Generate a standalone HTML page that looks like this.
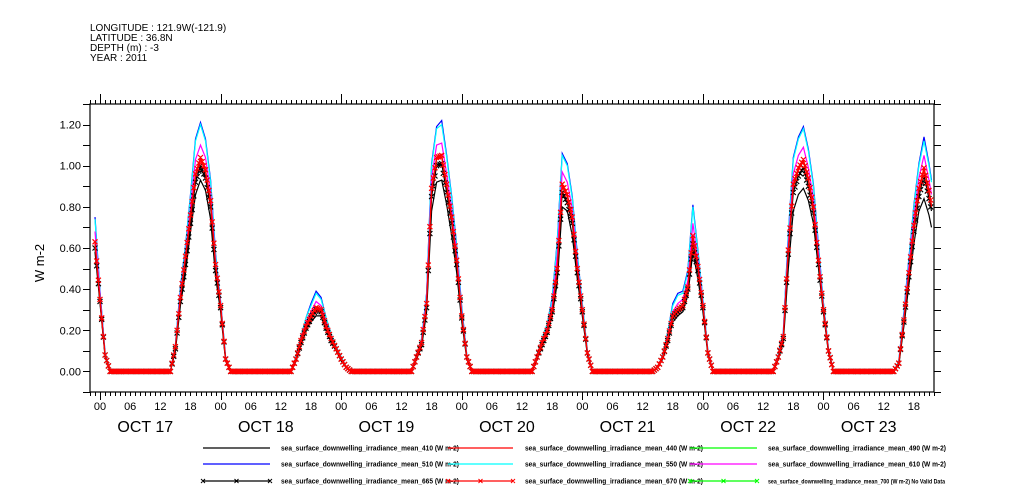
<!DOCTYPE html>
<html><head><meta charset="utf-8"><style>
body{margin:0;background:#fff;}
svg{display:block;font-family:"Liberation Sans",sans-serif;}
</style></head><body>
<svg id="chart" width="1009" height="504" viewBox="0 0 1009 504">
<g font-size="10" fill="#000">
<text x="90" y="31">LONGITUDE : 121.9W(-121.9)</text>
<text x="90" y="41">LATITUDE : 36.8N</text>
<text x="90" y="51">DEPTH (m) : -3</text>
<text x="90" y="61">YEAR : 2011</text>
</g>
<text x="44" y="263" font-size="13" text-anchor="middle" transform="rotate(-90 44 263)">W m-2</text>
<g id="axes"></g>
<g id="series"></g>
<g id="legend" font-size="7" font-weight="bold"></g>
</svg>
<script>
const times = [-1,0,1,2,
14,15,16,17,18,19,20,21,22,23,24,25,26,
38,39,40,41,42,43,44,45,46,47,48,49,50,
62,63,64,65,66,67,68,69,70,71,72,73,74,
86,87,88,89,90,91,92,93,94,95,96,97,98,
110,111,112,113,114,115,116,117,118,119,120,121,122,
134,135,136,137,138,139,140,141,142,143,144,145,146,
158,159,160,161,162,163,164,165,165.5];
const red440 = [0.62,0.35,0.08,0,
0,0.12,0.36,0.55,0.75,0.95,1.03,0.97,0.82,0.51,0.32,0.06,0,
0,0.06,0.15,0.22,0.27,0.31,0.30,0.22,0.16,0.11,0.06,0.02,0,
0,0.07,0.14,0.33,0.88,1.03,1.04,0.90,0.74,0.54,0.27,0.07,0,
0,0.07,0.14,0.20,0.30,0.50,0.90,0.85,0.74,0.50,0.30,0.09,0,
0,0.02,0.07,0.16,0.27,0.30,0.32,0.41,0.65,0.51,0.32,0.09,0,
0,0.07,0.17,0.59,0.90,0.98,1.02,0.93,0.79,0.54,0.30,0.10,0,
0,0.04,0.25,0.48,0.70,0.88,0.98,0.87,0.80];
const cyan550 = [0.74,0.38,0.09,0,
0,0.13,0.40,0.60,0.85,1.12,1.20,1.12,0.92,0.56,0.34,0.07,0,
0,0.07,0.17,0.26,0.32,0.38,0.35,0.26,0.18,0.12,0.07,0.02,0,
0,0.08,0.16,0.37,1.00,1.18,1.20,1.04,0.84,0.60,0.30,0.08,0,
0,0.08,0.16,0.23,0.35,0.62,1.05,1.00,0.84,0.56,0.33,0.10,0,
0,0.02,0.08,0.19,0.32,0.37,0.38,0.48,0.80,0.58,0.35,0.10,0,
0,0.08,0.19,0.66,1.03,1.13,1.18,1.07,0.90,0.60,0.33,0.11,0,
0,0.05,0.28,0.54,0.80,1.00,1.12,1.00,0.92];
const blue510 = [0.75,0.39,0.09,0,
0,0.13,0.41,0.61,0.86,1.13,1.21,1.13,0.93,0.57,0.34,0.07,0,
0,0.07,0.17,0.26,0.33,0.39,0.36,0.26,0.18,0.12,0.07,0.02,0,
0,0.08,0.16,0.38,1.01,1.19,1.22,1.05,0.85,0.61,0.31,0.08,0,
0,0.08,0.16,0.23,0.36,0.63,1.06,1.01,0.85,0.57,0.33,0.10,0,
0,0.02,0.08,0.19,0.33,0.38,0.39,0.49,0.81,0.59,0.35,0.10,0,
0,0.08,0.19,0.67,1.04,1.14,1.19,1.08,0.91,0.61,0.33,0.11,0,
0,0.05,0.29,0.55,0.81,1.01,1.14,1.01,0.93];
const magenta610 = [0.68,0.37,0.08,0,
0,0.12,0.38,0.57,0.80,1.03,1.10,1.04,0.87,0.53,0.33,0.06,0,
0,0.06,0.16,0.24,0.29,0.34,0.32,0.24,0.17,0.11,0.06,0.02,0,
0,0.07,0.15,0.35,0.94,1.10,1.11,0.96,0.79,0.57,0.28,0.07,0,
0,0.07,0.15,0.21,0.32,0.56,0.97,0.92,0.79,0.53,0.31,0.09,0,
0,0.02,0.07,0.17,0.29,0.33,0.35,0.44,0.72,0.54,0.33,0.09,0,
0,0.07,0.18,0.62,0.96,1.05,1.09,0.99,0.84,0.57,0.31,0.10,0,
0,0.04,0.26,0.51,0.75,0.94,1.05,0.93,0.86];
const black410 = [0.58,0.33,0.07,0,
0,0.10,0.32,0.48,0.68,0.86,0.93,0.88,0.74,0.46,0.29,0.05,0,
0,0.05,0.13,0.20,0.24,0.27,0.27,0.20,0.14,0.10,0.05,0.02,0,
0,0.06,0.12,0.29,0.78,0.92,0.93,0.81,0.66,0.48,0.24,0.06,0,
0,0.06,0.12,0.18,0.27,0.43,0.80,0.78,0.66,0.45,0.27,0.08,0,
0,0.02,0.06,0.14,0.24,0.27,0.29,0.37,0.58,0.45,0.29,0.08,0,
0,0.06,0.14,0.50,0.78,0.86,0.89,0.83,0.72,0.50,0.28,0.09,0,
0,0.03,0.22,0.42,0.62,0.78,0.84,0.76,0.70];
const black665 = [0.60,0.34,0.08,0,
0,0.11,0.34,0.52,0.72,0.92,1.00,0.94,0.80,0.49,0.31,0.06,0,
0,0.06,0.14,0.21,0.26,0.30,0.29,0.21,0.15,0.11,0.06,0.02,0,
0,0.07,0.13,0.31,0.85,1.00,1.01,0.87,0.72,0.52,0.26,0.07,0,
0,0.07,0.13,0.19,0.29,0.48,0.87,0.82,0.72,0.48,0.29,0.09,0,
0,0.02,0.07,0.15,0.26,0.29,0.31,0.40,0.62,0.49,0.31,0.09,0,
0,0.07,0.16,0.57,0.87,0.95,0.99,0.90,0.77,0.52,0.29,0.10,0,
0,0.04,0.24,0.46,0.68,0.85,0.95,0.84,0.78];
const red670 = [0.63,0.35,0.08,0,
0,0.12,0.36,0.56,0.76,0.96,1.04,0.98,0.83,0.52,0.32,0.06,0,
0,0.06,0.15,0.22,0.27,0.31,0.30,0.22,0.16,0.11,0.06,0.02,0,
0,0.07,0.14,0.33,0.89,1.04,1.05,0.91,0.75,0.54,0.27,0.07,0,
0,0.07,0.14,0.20,0.30,0.50,0.91,0.86,0.75,0.50,0.30,0.09,0,
0,0.02,0.07,0.16,0.27,0.30,0.32,0.41,0.66,0.51,0.32,0.09,0,
0,0.07,0.17,0.59,0.91,0.99,1.03,0.94,0.80,0.54,0.30,0.10,0,
0,0.04,0.25,0.48,0.71,0.89,0.99,0.88,0.81];
const yTicks = [0,0.2,0.4,0.6,0.8,1.0,1.2];
const yTickLabels = ["0.00","0.20","0.40","0.60","0.80","1.00","1.20"];
const hourLabels = ["00","06","12","18"];
const dayLabels = ["OCT 17","OCT 18","OCT 19","OCT 20","OCT 21","OCT 22","OCT 23"];

const X0=90, X1=934, Y0=104, Y1=392;
const TMIN=-2, TMAX=166, VMIN=-0.1, VMAX=1.3;
function xs(t){return X0+(t-TMIN)*(X1-X0)/(TMAX-TMIN);}
function ys(v){return Y1-(v-VMIN)*(Y1-Y0)/(VMAX-VMIN);}
const NS="http://www.w3.org/2000/svg";
function mk(tag,parent){const e=document.createElementNS(NS,tag);parent.appendChild(e);return e;}
const axes=document.getElementById('axes');
const frame=mk('rect',axes);


frame.setAttribute('x',X0);frame.setAttribute('y',Y0);frame.setAttribute('width',X1-X0);frame.setAttribute('height',Y1-Y0);
frame.setAttribute('fill','none');frame.setAttribute('stroke','#000');frame.setAttribute('stroke-width','1.2');
let tp='';
for(let t=TMIN;t<=TMAX;t++){
  const x=Math.round(xs(t))+0.5;
  const major=((t%24)+24)%24===0;
  tp+=`M${x} ${Y1}v${major?8:4}M${x} ${Y0}v${major?-10:-4}`;
}
for(let v=-0.1;v<=1.31;v+=0.1){
  const y=Math.round(ys(v))+0.5;
  tp+=`M${X0} ${y}h-7M${X1} ${y}h7`;
}
const ticks=mk('path',axes);


ticks.setAttribute('d',tp);ticks.setAttribute('stroke','#000');ticks.setAttribute('fill','none');
yTicks.forEach((v,i)=>{
  const t=mk('text',axes);
  
  
  t.setAttribute('x',X0-9);t.setAttribute('y',ys(v)+4);t.setAttribute('text-anchor','end');t.setAttribute('font-size','11');
  t.textContent=yTickLabels[i];
});
for(let d=0;d<7;d++){
  hourLabels.forEach((h,i)=>{
    const t0=d*24+i*6; if(t0>TMAX) return;
    const t=mk('text',axes);
    
    
    t.setAttribute('x',xs(t0));t.setAttribute('y',410);t.setAttribute('text-anchor','middle');t.setAttribute('font-size','11');
    t.textContent=h;
  });
  const dl=mk('text',axes);
  
  
  dl.setAttribute('x',xs(d*24+9));dl.setAttribute('y',432);dl.setAttribute('text-anchor','middle');dl.setAttribute('font-size','16');
  dl.textContent=dayLabels[d];
}
const ser=document.getElementById('series');
function interp(arr,t){
  for(let i=0;i<times.length-1;i++){
    if(t>=times[i]&&t<=times[i+1]){const f=(t-times[i])/(times[i+1]-times[i]);return arr[i]+(arr[i+1]-arr[i])*f;}
  }
  return null;
}
function line(arr,color,name,marker){
  const p=mk('polyline',ser);
  
  
  p.setAttribute('points',arr.map((v,i)=>xs(times[i]).toFixed(1)+','+ys(v).toFixed(1)).join(' '));
  p.setAttribute('fill','none');p.setAttribute('stroke',color);p.setAttribute('stroke-width','1.2');
  if(marker){
    let d='';
    const tEnd=times[times.length-1];
    for(let t=times[0];t<=tEnd+1e-6;t+=1/3){
      const v=interp(arr,t); if(v===null) continue;
      const x=xs(t),y=ys(v);
      d+=`M${(x-2.5).toFixed(1)} ${(y-2.5).toFixed(1)}l5 5M${(x-2.5).toFixed(1)} ${(y+2.5).toFixed(1)}l5 -5`;
    }
    const m=mk('path',ser);
    
    
    m.setAttribute('d',d);m.setAttribute('stroke',color);m.setAttribute('stroke-width','1.2');
  }
}
line(blue510,'#0000ff','series-510');
line(cyan550,'#00ffff','series-550');
line(magenta610,'#ff00ff','series-610');
line(black410,'#000000','series-410');
line(black665,'#000000','series-665',true);
line(red440,'#ff0000','series-440');
line(red670,'#ff0000','series-670',true);

const legendItems=[
 [203,270,281,448,'#000','sea_surface_downwelling_irradiance_mean_410 (W m-2)',false],
 [448,513,525,448,'#f00','sea_surface_downwelling_irradiance_mean_440 (W m-2)',false],
 [690,757,768,448,'#0f0','sea_surface_downwelling_irradiance_mean_490 (W m-2)',false],
 [203,270,281,464,'#00f','sea_surface_downwelling_irradiance_mean_510 (W m-2)',false],
 [448,513,525,464,'#0ff','sea_surface_downwelling_irradiance_mean_550 (W m-2)',false],
 [690,757,768,464,'#f0f','sea_surface_downwelling_irradiance_mean_610 (W m-2)',false],
 [203,270,281,481,'#000','sea_surface_downwelling_irradiance_mean_665 (W m-2)',true],
 [448,513,525,481,'#f00','sea_surface_downwelling_irradiance_mean_670 (W m-2)',true],
 [690,757,768,481,'#0f0','sea_surface_downwelling_irradiance_mean_700 (W m-2) No Valid Data',true]
];
const lg=document.getElementById('legend');
legendItems.forEach(it=>{
  const g=mk('g',lg);
  
  
  const l=mk('line',g);
  l.setAttribute('x1',it[0]);l.setAttribute('x2',it[1]);l.setAttribute('y1',it[3]);l.setAttribute('y2',it[3]);
  l.setAttribute('stroke',it[4]);l.setAttribute('stroke-width','1.3');
  if(it[6]){
    let d='';[it[0],(it[0]+it[1])/2,it[1]].forEach(x=>{d+=`M${x-2} ${it[3]-2}l4 4M${x-2} ${it[3]+2}l4 -4`;});
    const m=mk('path',g);m.setAttribute('d',d);m.setAttribute('stroke',it[4]);
  }
  const t=mk('text',g);
  t.setAttribute('x',it[2]);t.setAttribute('y',it[3]+2.5);
  const long=it[5].length>55;
  t.setAttribute('textLength',long?177:178);t.setAttribute('lengthAdjust','spacingAndGlyphs');
  if(long) t.setAttribute('font-size','6');
  t.textContent=it[5];
});
</script>
</body></html>
